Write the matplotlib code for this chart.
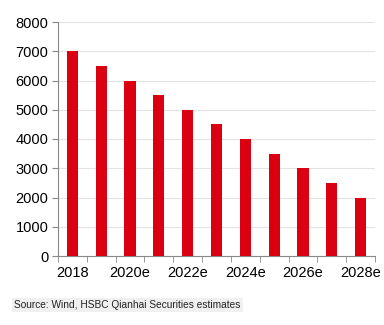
import matplotlib
matplotlib.use("Agg")
import matplotlib.pyplot as plt
import numpy as np

years = ["2018", "2019e", "2020e", "2021e", "2022e", "2023e", "2024e",
         "2025e", "2026e", "2027e", "2028e"]
values = [7000, 6500, 6000, 5500, 5000, 4500, 4000, 3500, 3000, 2500, 2000]
y_ticks = [0, 1000, 2000, 3000, 4000, 5000, 6000, 7000, 8000]

plt.rcParams['font.family'] = ['Liberation Sans', 'DejaVu Sans']

fig = plt.figure(figsize=(3.84, 3.25), dpi=100)
ax = fig.add_axes([58 / 384, 1 - 256 / 325, (375 - 58) / 384, (256 - 22) / 325])

x = np.arange(len(years))
ax.bar(x, values, width=0.39, color="#DB0011", zorder=3)

ax.set_xlim(-0.5, len(years) - 0.5)
ax.set_ylim(0, 8000)
ax.set_yticks(y_ticks)
ax.set_yticklabels([str(v) for v in y_ticks], fontsize=10.5)
ax.yaxis.grid(True, color="#e3e3e3", linewidth=0.8, zorder=0)

# labels on every other year, tick marks between bars
ax.set_xticks(x[::2])
ax.set_xticklabels(years[::2], fontsize=10.5)
ax.tick_params(axis="x", which="major", length=0, pad=7)
ax.set_xticks(np.arange(-0.5, len(years)), minor=True)
ax.tick_params(axis="x", which="minor", length=4, color="#888888", direction="out")
ax.tick_params(axis="y", length=4, color="#888888", pad=3)

for s in ["top", "right"]:
    ax.spines[s].set_visible(False)
for s in ["left", "bottom"]:
    ax.spines[s].set_color("#888888")
    ax.spines[s].set_linewidth(0.8)

fig.text(14 / 384, 1 - 305 / 325, "Source: Wind, HSBC Qianhai Securities estimates",
         fontsize=7.3, va="center", ha="left", color="#222222",
         bbox=dict(facecolor="#f0f0f0", edgecolor="none", pad=1.5))

fig.savefig("out.png", dpi=100)
